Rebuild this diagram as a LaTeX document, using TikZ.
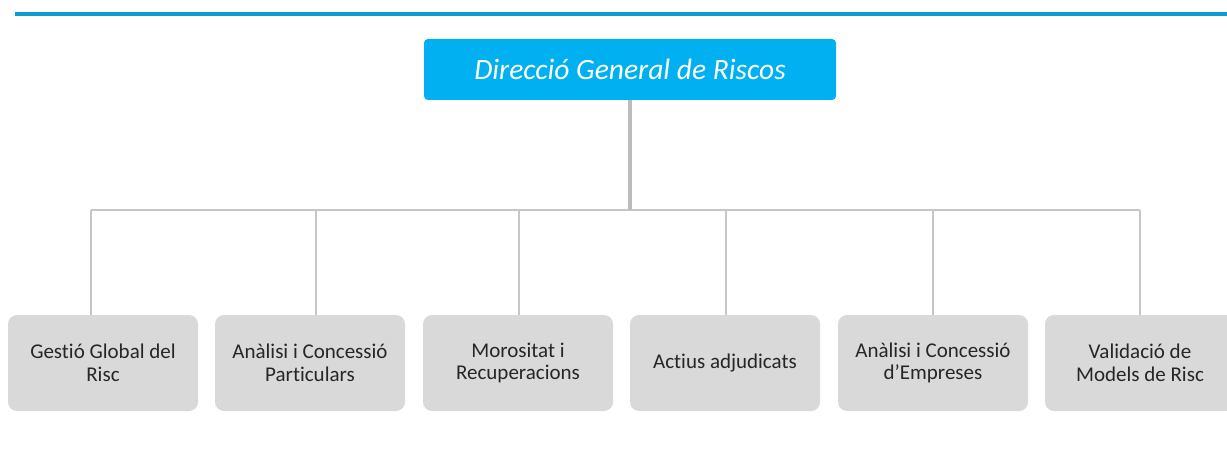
\documentclass[tikz,border=0pt]{standalone}
\usepackage{fontspec}
\setmainfont{Carlito}[Ligatures=NoCommon]
\usepackage{tikz}
\usetikzlibrary{positioning, calc}

\definecolor{topblue}{HTML}{00B0F0}
\definecolor{rulecol}{HTML}{0C9CD0}
\definecolor{unitgray}{HTML}{D9D9D9}
\definecolor{linegray}{HTML}{C6C6C6}
\definecolor{textgray}{HTML}{262626}

\tikzset{
    headbox/.style={fill=topblue, rounded corners=4pt, minimum width=412pt, minimum height=61pt,
        text=white, font=\fontsize{29.5}{33}\selectfont\itshape},
    unitbox/.style={fill=unitgray, rounded corners=9pt, minimum width=190pt, minimum height=96pt,
        text=textgray, align=center, font=\fontsize{21}{22.5}\selectfont},
    branch/.style={draw=linegray, line width=1.6pt},
    trunk/.style={draw=linegray!95!black, line width=3.5pt}
}

\begin{document}
\begin{tikzpicture}[x=1pt, y=-1pt]
    \useasboundingbox (0,0) rectangle (1227,452);

    % Top rule
    \draw[rulecol, line width=4pt] (15,14.5) -- (1227,14.5);

    % Head
    \node[headbox] (dgr) at (630,69.5) {Direcció General de Riscos};

    % Units
    \node[unitbox] (gestio)  at (103,363)  {Gestió Global del\\Risc};
    \node[unitbox] (partic)  at (310,363)  {Anàlisi i Concessió\\Particulars};
    \node[unitbox] (moros)   at (518,363)  {Morositat i\\Recuperacions};
    \node[unitbox] (actius)  at (725,363)  {Actius adjudicats};
    \node[unitbox] (empres)  at (933,363)  {Anàlisi i Concessió\\d’Empreses};
    \node[unitbox] (valida)  at (1140,363) {Validació de\\Models de Risc};

    % Bus
    \coordinate (j1) at (91,210);
    \coordinate (j2) at (316,210);
    \coordinate (j3) at (519,210);
    \coordinate (j4) at (726,210);
    \coordinate (j5) at (933,210);
    \coordinate (j6) at (1140,210);
    \draw[branch] (j1) -- (j6);
    \draw[trunk] (dgr.south) -- (dgr.south |- j1);

    % Drops
    \draw[branch] (j1) -- (j1 |- gestio.north);
    \draw[branch] (j2) -- (j2 |- partic.north);
    \draw[branch] (j3) -- (j3 |- moros.north);
    \draw[branch] (j4) -- (j4 |- actius.north);
    \draw[branch] (j5) -- (j5 |- empres.north);
    \draw[branch] (j6) -- (j6 |- valida.north);
\end{tikzpicture}
\end{document}
